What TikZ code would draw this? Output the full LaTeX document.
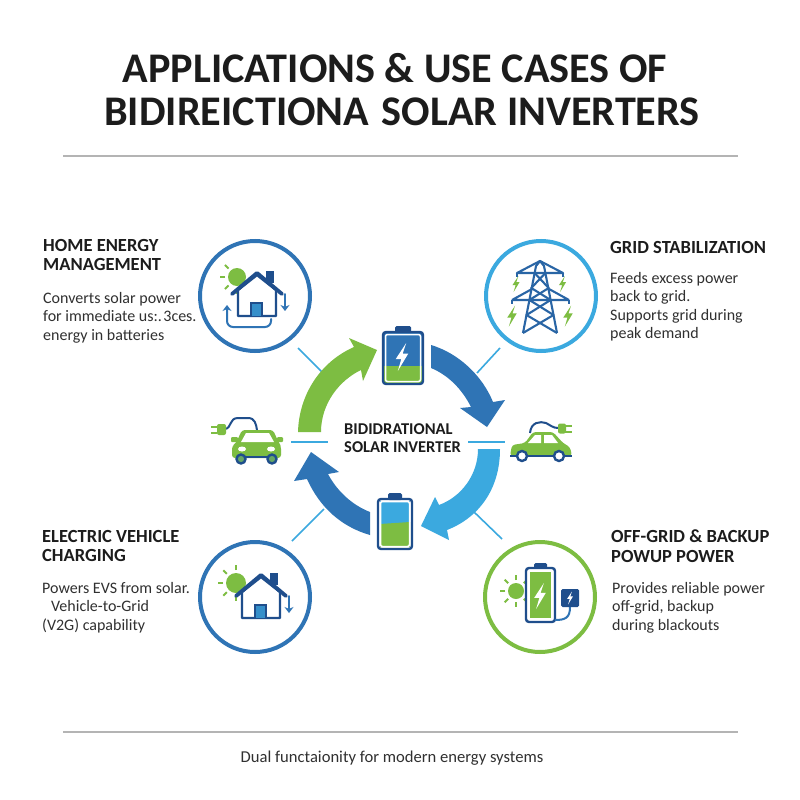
\documentclass[tikz,border=0pt]{standalone}
\usepackage{fontspec}
\setmainfont{Carlito}
\definecolor{navy}{HTML}{1F4E8C}
\definecolor{midblue}{HTML}{2F74B5}
\definecolor{skyblue}{HTML}{3BA9DF}
\definecolor{leaf}{HTML}{7DBD42}
\definecolor{ink}{HTML}{1C1C1C}
\definecolor{bodyink}{HTML}{303030}
\definecolor{rulegrey}{HTML}{B4B4B4}
\tikzset{
  badge/.style={circle,draw,line width=4pt,minimum size=110pt,inner sep=0pt,fill=white},
  titletext/.style={inner sep=0pt,anchor=base,text=ink,font=\fontsize{42.2}{46}\selectfont\bfseries},
  headtext/.style={inner sep=0pt,anchor=north west,align=left,text=ink,font=\fontsize{18.5}{19.3}\selectfont\bfseries},
  bodytext/.style={inner sep=0pt,anchor=north west,align=left,text=bodyink,font=\fontsize{16}{18.4}\selectfont},
  hubtext/.style={inner sep=0pt,anchor=base west,text=ink,font=\fontsize{16.5}{18}\selectfont\bfseries},
  foottext/.style={inner sep=0pt,anchor=base,text=bodyink,font=\fontsize{16.6}{20}\selectfont},
  rulerline/.style={draw=rulegrey,line width=1.4pt},
  linkline/.style={draw=skyblue,line width=1.6pt},
  iconline/.style={draw=navy,line width=2.4pt,line join=round},
  thinblue/.style={draw=midblue,line width=2pt,line cap=round},
  pylonline/.style={draw=midblue!60!navy,line width=2.1pt,line join=round},
}
\newcommand{\boltshape}[4]{\fill[#4,shift={(#1,#2)},scale=#3] (3,-10)--(-4.5,1.5)--(-0.5,1.5)--(-3,10)--(4.5,-2.5)--(0.5,-2.5)--cycle;}
\newcommand{\sunshape}[5]{%
  \fill[leaf] (#1,#2) circle[radius=#3];
  \foreach \a in {#5}{\draw[leaf,line width=2pt] ($(#1,#2)+(\a:#3+3)$) -- ($(#1,#2)+(\a:#3+#4+3)$);}}
% house drawn from its apex
\newcommand{\houseshape}[2]{%
  \begin{scope}[shift={(#1,#2)}]
    \fill[navy] (9,-2) rectangle (17,10);
    \filldraw[iconline,fill=white] (-19,17) -- (-19,43) -- (19,43) -- (19,17) -- (0,2) -- cycle;
    \fill[skyblue!50!midblue] (-6,30) rectangle (5,43);
    \draw[navy,line width=1.8pt] (-6,43) -- (-6,30) -- (5,30) -- (5,43);
    \draw[navy,line width=3.8pt,line cap=round,line join=round] (-25,21) -- (0,0) -- (25,21);
    \draw[thinblue,-{Stealth[length=6pt,width=9pt]}] (28,21) -- (28,38);
  \end{scope}}
\usetikzlibrary{calc,arrows.meta}
\begin{document}
\begin{tikzpicture}[x=1pt,y=-1pt]
\useasboundingbox (0,0) rectangle (800,800);
\fill[white] (0,0) rectangle (800,800);

% ---- title and rules
\node[titletext] (title1) at (395,82) {APPLICATIONS \& USE CASES OF};
\node[titletext] (title2) at (402,125) {BIDIREICTIONA\hspace{3pt} SOLAR INVERTERS};
\coordinate (ruleAl) at (63,156); \coordinate (ruleAr) at (738,156);
\coordinate (ruleBl) at (63,732); \coordinate (ruleBr) at (738,732);
\draw[rulerline] (ruleAl) -- (ruleAr);
\draw[rulerline] (ruleBl) -- (ruleBr);
\node[foottext] (foot) at (392,762) {Dual functaionity for modern energy systems};

% ---- text blocks
\node[headtext] (h1) at (43,239) {\rule{0pt}{12pt}HOME ENERGY\\MANAGEMENT};
\node[bodytext] (b1) at (43,291) {\rule{0pt}{12pt}Converts solar power\\for immediate us:.\hspace{1.5pt}3ces.\\energy in batteries};
\node[headtext] (h2) at (610,241) {\rule{0pt}{12pt}GRID STABILIZATION};
\node[bodytext] (b2) at (610,271) {\rule{0pt}{12pt}Feeds excess power\\back to grid.\\Supports grid during\\peak demand};
\node[headtext] (h3) at (42,530) {\rule{0pt}{12pt}ELECTRIC VEHICLE\\CHARGING};
\node[bodytext] (b3) at (42,581) {\rule{0pt}{12pt}Powers EVS from solar.\\\hspace*{9pt}Vehicle-to-Grid\\(V2G) capability};
\node[headtext] (h4) at (611,530) {\rule{0pt}{12pt}OFF-GRID \& BACKUP\\POWUP POWER};
\node[bodytext] (b4) at (612,581) {\rule{0pt}{12pt}Provides reliable power\\off-grid, backup\\during blackouts};

% ---- badges
\node[badge,draw=midblue] (home) at (255,296) {};
\node[badge,draw=skyblue] (grid) at (541,296) {};
\node[badge,draw=midblue] (ev) at (255,597) {};
\node[badge,draw=leaf] (off) at (540,597) {};

% ---- connectors
\coordinate (l1a) at (298,348); \coordinate (l1b) at (322,372);
\coordinate (l2a) at (500,348); \coordinate (l2b) at (477,373);
\coordinate (l3a) at (324,509); \coordinate (l3b) at (292,541);
\coordinate (l4a) at (473,511); \coordinate (l4b) at (502,539);
\coordinate (l5a) at (291,442); \coordinate (l5b) at (328,442);
\coordinate (l6a) at (468,442); \coordinate (l6b) at (505,442);
\foreach \p/\q in {l1a/l1b,l2a/l2b,l3a/l3b,l4a/l4b,l5a/l5b,l6a/l6b}{\draw[linkline] (\p) -- (\q);}

% ---- ring arrows
\fill[leaf] (298,432) .. controls (299,395) and (320,362) .. (354,347) -- (349,338) -- (377,350) -- (363,381) -- (361,370) .. controls (340,380) and (321,403) .. (321,432) -- cycle;
\fill[midblue] (431,345) .. controls (458,353) and (482,375) .. (493,402) -- (505,400) -- (487,427) -- (460,408) -- (471,407) .. controls (462,389) and (448,375) .. (431,368) -- cycle;
\fill[skyblue] (500,449) .. controls (500,490) and (478,518) .. (447,530) -- (449,540) -- (421,526) -- (435,497) -- (439,505) .. controls (461,497) and (478,475) .. (478,449) -- cycle;
\fill[midblue] (370,512) .. controls (352,505) and (337,491) .. (328,474) -- (339,472) -- (311,452) -- (294,481) -- (307,479) .. controls (320,508) and (342,527) .. (370,535) -- cycle;

% ---- hub text
\node[hubtext] (hub1) at (344,434) {BIDIDRATIONAL};
\node[hubtext] (hub2) at (344,452) {SOLAR INVERTER};

% ---- top battery
\fill[navy,rounded corners=1.5pt] (395,326) rectangle (411,334);
\fill[midblue] (384,333) rectangle (422,367);
\fill[leaf] (384,366) rectangle (422,383);
\draw[navy,line width=2.4pt,rounded corners=3pt,fill=none] (383,332) rectangle (423,384);
\draw[white,line width=1.5pt,rounded corners=2pt] (385.5,334.5) rectangle (420.5,381.5);
\boltshape{402}{357}{1.4}{white}

% ---- bottom battery
\fill[navy,rounded corners=1.5pt] (388,493) rectangle (402,500);
\fill[skyblue] (380,501) rectangle (410,523.5);
\fill[leaf] (380,524) -- (410,522) -- (410,547) -- (380,547) -- cycle;
\draw[navy,line width=2.4pt,rounded corners=3pt] (378,499) rectangle (412,549);
\draw[white,line width=1.5pt,rounded corners=2pt] (380.5,501.5) rectangle (409.5,546.5);

% ---- left car, front view
\draw[navy,line width=2pt] (225,429) .. controls (232,428) and (229,418) .. (238,418) -- (248,418) .. controls (255,418) and (256,424) .. (257,430);
\fill[leaf,rounded corners=2pt] (217,424) rectangle (226,435);
\draw[leaf,line width=2pt] (211,426.5) -- (217,426.5) (211,433) -- (217,433);
\fill[leaf,rounded corners=3pt] (242,430) -- (273,430) -- (279,443) -- (281,446) -- (281,458) -- (232,458) -- (232,446) -- (236,443) -- cycle;
\fill[leaf,rounded corners=1pt] (231,437) rectangle (238,442);
\fill[leaf,rounded corners=1pt] (277,437) rectangle (283,442);
\fill[white] (246,433) -- (269,433) -- (274,442) -- (241,442) -- cycle;
\fill[white] (242,449) ellipse[x radius=4pt,y radius=2.5pt];
\fill[white] (271,449) ellipse[x radius=4pt,y radius=2.5pt];
\draw[navy,line width=1.5pt] (238,457) -- (275,457);
\filldraw[draw=navy,line width=2.4pt,fill=leaf!70!midblue] (241,459) circle[radius=4.5pt];
\filldraw[draw=navy,line width=2.4pt,fill=leaf!70!midblue] (272,459) circle[radius=4.5pt];

% ---- right car, side view
\draw[navy,line width=2pt] (530,433) .. controls (531,422) and (540,421) .. (546,423) .. controls (550,425) and (553,428) .. (558,428);
\fill[leaf,rounded corners=2pt] (558,423.5) rectangle (566,433.5);
\draw[leaf,line width=2pt] (565,426) -- (572,426) (565,432) -- (572,432);
\fill[leaf,rounded corners=3pt] (510,456) -- (512,445) -- (525,443) -- (533,432) -- (553,432) -- (563,443) -- (570,447) -- (572,456) -- cycle;
\fill[white] (535,435) -- (541,435) -- (541,443) -- (528,443) -- cycle;
\fill[white] (544,435) -- (552,435) -- (558,443) -- (544,443) -- cycle;
\draw[navy,line width=1.5pt] (510,456) -- (572,456);
\filldraw[draw=navy,line width=2.4pt,fill=white] (522,456) circle[radius=5pt];
\filldraw[draw=navy,line width=2.4pt,fill=white] (559,456) circle[radius=5pt];

% ---- home icon
\sunshape{237}{277}{9}{5}{45,90,135,180,225}
\houseshape{257}{273}
\draw[thinblue,-{Stealth[length=6pt,width=9pt]},rounded corners=6pt] (271,319) -- (271,327) -- (227,327) -- (227,305);

% ---- EV icon
\sunshape{236}{583}{10}{5}{45,90,135,180,225,270}
\houseshape{261}{575}

% ---- pylon icon
\draw[pylonline] (523,333) -- (536,266) -- (540,261) -- (544,266) -- (557,333);
\draw[pylonline] (517,273) -- (540,261) -- (563,273) -- cycle;
\draw[pylonline] (512,300) -- (532,289) (569,300) -- (549,289) (512,300) -- (569,300);
\draw[pylonline] (517,273) -- (517,277) (563,273) -- (563,277) (512,300) -- (512,304) (569,300) -- (569,304);
\draw[pylonline] (534.6,273) -- (548.7,288) -- (529.4,300) -- (553.5,315) -- (523,333);
\draw[pylonline] (545.4,273) -- (531.3,288) -- (550.6,300) -- (526.5,315) -- (557,333);
\boltshape{516}{284}{0.8}{leaf}
\boltshape{562.5}{284}{0.8}{leaf}
\boltshape{512}{316}{1.05}{leaf}
\boltshape{568}{316}{1.05}{leaf}

% ---- off-grid icon
\sunshape{516}{591}{8}{5}{0,45,90,135,180,225,270,315}
\fill[navy,rounded corners=1.5pt] (534,563) rectangle (547,569);
\filldraw[draw=navy,line width=2.4pt,fill=white,rounded corners=3pt] (526,568) rectangle (555,622);
\fill[leaf] (530,572) rectangle (551,618);
\boltshape{540}{596}{1.3}{white}
\draw[midblue,line width=2pt] (570,607) .. controls (570,618) and (565,620) .. (555,620);
\fill[navy,rounded corners=1.5pt] (561,589) rectangle (579,607);
\boltshape{570}{598}{0.65}{white}
\end{tikzpicture}
\end{document}
